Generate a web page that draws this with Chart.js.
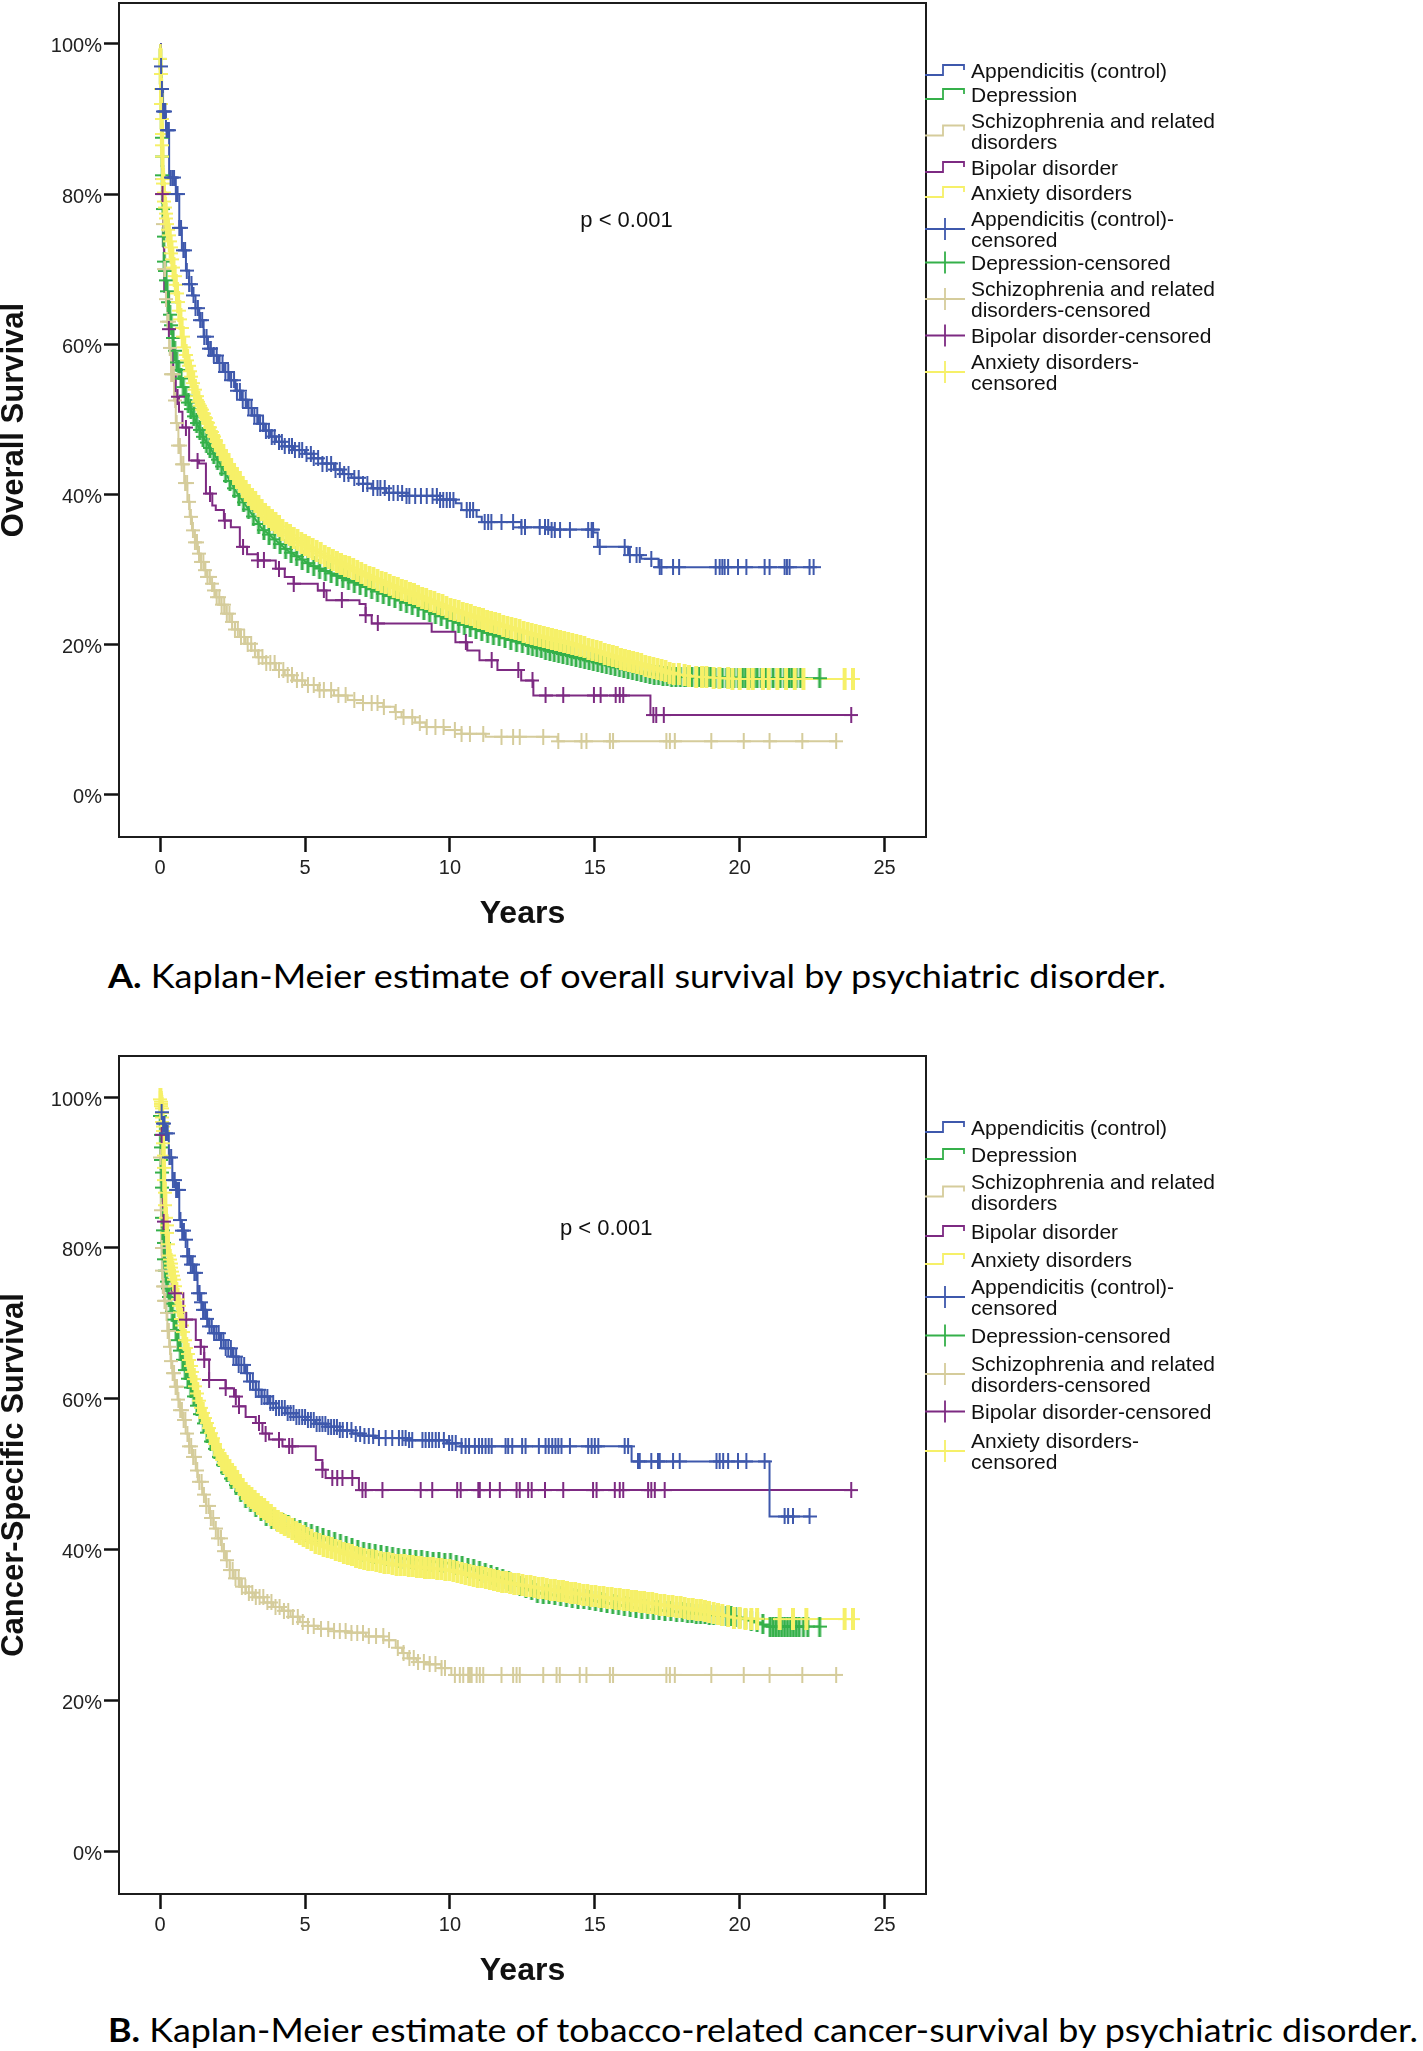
<!DOCTYPE html>
<html><head><meta charset="utf-8">
<script src="https://cdn.jsdelivr.net/npm/chart.js@4.4.1/dist/chart.umd.min.js"></script>
<style>
html,body{margin:0;padding:0;background:#fff;}
#page{position:relative;width:1423px;height:2051px;background:#fff;overflow:hidden;}
canvas{position:absolute;left:0;}
.leg{position:absolute;left:925px;font-family:'Liberation Sans',Arial,sans-serif;font-size:21px;line-height:21px;color:#111;white-space:nowrap;}
.leg svg{position:absolute;left:0;top:0;overflow:visible}
.leg .t{position:absolute;left:46px;top:0;}
.cap{position:absolute;left:108px;font-family:Lato,'Open Sans',sans-serif;font-size:32px;line-height:36px;color:#000;white-space:nowrap;transform-origin:0 50%;}
.cap b{font-weight:700;}
</style></head><body><div id="page">
<canvas id="cA" width="940" height="940" style="top:0;width:940px;height:940px"></canvas>
<canvas id="cB" width="940" height="960" style="top:1040px;width:940px;height:960px"></canvas>
<div class="cap" id="capA" style="top:958px"><b>A.</b> Kaplan-Meier estimate of overall survival by psychiatric disorder.</div>
<div class="cap" id="capB" style="top:2012px"><b>B.</b> Kaplan-Meier estimate of tobacco-related cancer-survival by psychiatric disorder.</div>
</div>
<script>
// ---------------- DATA ----------------
const GROUPS = ["Appendicitis (control)", "Depression", "Schizophrenia and related disorders", "Bipolar disorder", "Anxiety disorders"];
const LEGEND_LABELS = [["Appendicitis (control)"], ["Depression"], ["Schizophrenia and related", "disorders"], ["Bipolar disorder"], ["Anxiety disorders"],
  ["Appendicitis (control)-", "censored"], ["Depression-censored"], ["Schizophrenia and related", "disorders-censored"], ["Bipolar disorder-censored"], ["Anxiety disorders-", "censored"]];
const X_TICKS = [0, 5, 10, 15, 20, 25];
const Y_TICKS = [0, 20, 40, 60, 80, 100];
const P_TEXT = "p < 0.001";

// Chart A: overall survival. Curves are [years, survival %] step knots; *_cens = times of censor marks
const A_appendicitis = [[0,100],[0.02,97],[0.05,94],[0.1,91],[0.2,88.5],[0.31,82.2],[0.54,80],[0.66,75.5],[0.75,72.5],[0.89,69.8],[1.0,68],[1.1,66.5],[1.22,64.8],[1.35,63.2],[1.5,61],[1.65,59.4],[1.8,58.5],[2.0,57.5],[2.2,56.3],[2.4,55.2],[2.6,53.8],[2.8,52.6],[3.0,51.5],[3.17,50.5],[3.4,49.4],[3.58,48.5],[3.8,47.7],[4.0,47],[4.3,46.4],[4.6,45.9],[5.0,45.4],[5.3,44.8],[5.6,44.1],[6.0,43.3],[6.3,42.7],[6.6,42.2],[7.0,41.4],[7.3,40.8],[7.8,40.2],[8.5,39.8],[9.66,39.3],[10.2,38.8],[10.4,37.9],[10.92,37.0],[11.1,36.3],[12.46,35.6],[13.4,35.3],[14.95,34.9],[15.1,33.0],[16.15,31.9],[16.6,31.4],[17.2,30.3],[22.55,30.3]];
const A_appendicitis_cens = [0.03,0.06,0.1,0.14,0.18,0.22,0.26,0.3,0.36,0.42,0.48,0.55,0.6,0.66,0.72,0.8,0.86,0.92,1.0,1.08,1.15,1.22,1.3,1.38,1.45,1.52,1.6,1.68,1.75,1.85,1.95,2.05,2.15,2.25,2.35,2.45,2.55,2.65,2.75,2.85,2.95,3.05,3.15,3.25,3.35,3.45,3.55,3.65,3.75,3.85,3.95,4.1,4.2,4.3,4.45,4.55,4.65,4.8,4.9,5.05,5.2,5.3,5.45,5.6,5.75,5.9,6.05,6.2,6.35,6.5,6.7,6.85,7.0,7.15,7.35,7.5,7.6,7.75,7.9,8.05,8.2,8.35,8.5,8.6,8.8,9.0,9.2,9.4,9.55,9.66,9.77,9.89,10.0,10.12,10.58,10.69,10.8,11.2,11.32,11.43,11.78,12.18,12.47,12.59,13.1,13.28,13.39,13.51,13.62,13.8,14.14,14.77,14.89,14.94,15.17,16.03,16.21,16.44,16.55,16.95,17.24,17.3,17.7,17.91,19.17,19.31,19.4,19.48,19.6,19.94,20.23,20.86,21.03,21.55,21.63,21.72,22.41,22.55];
const A_depression = [[0,100],[0.01,98],[0.03,94],[0.05,90],[0.07,85],[0.09,80],[0.11,76],[0.14,71],[0.2,68.5],[0.31,64.5],[0.54,58],[0.89,53],[1.2,50],[1.5,47.5],[2.0,44.5],[2.65,40.2],[3.5,35.5],[4.4,32.5],[5.2,30.6],[6.0,29.3],[7.0,27.8],[8.0,26.3],[9.0,24.8],[10,23.3],[11,21.9],[12,20.7],[13.5,19.1],[15,17.7],[16.8,16.1],[17.7,15.7],[19,15.6],[21,15.5],[22.76,15.5]];
const A_depression_cens = [0.01,0.02,0.03,0.04,0.05,0.06,0.07,0.08,0.09,0.1,0.12,0.14,0.17,0.2,0.24,0.28,0.33,0.38,0.44,0.5,0.57,0.64,0.72,0.8,0.88,0.97,1.06,1.16,1.26,1.37,1.48,1.6,1.72,1.85,1.98,2.12,2.26,2.41,2.56,2.72,2.88,3.05,3.22,3.4,3.58,3.76,3.95,4.14,4.33,4.52,4.71,4.9,5.1,5.3,5.5,5.7,5.9,6.1,6.3,6.5,6.7,6.9,7.1,7.3,7.5,7.7,7.9,8.1,8.3,8.5,8.7,8.9,9.1,9.3,9.5,9.7,9.9,10.1,10.3,10.5,10.7,10.9,11.1,11.3,11.5,11.7,11.9,12.1,12.3,12.5,12.7,12.85,13.0,13.15,13.3,13.45,13.6,13.75,13.9,14.05,14.2,14.35,14.5,14.65,14.8,14.95,15.1,15.25,15.4,15.55,15.7,15.85,16.0,16.15,16.3,16.45,16.6,16.75,16.9,17.05,17.2,17.35,17.5,17.65,17.8,17.95,18.1,18.2,18.35,18.5,18.6,18.75,18.9,19.0,19.15,19.3,19.4,19.55,19.7,19.8,19.95,20.1,20.2,20.35,20.5,20.6,20.75,20.9,21.0,21.15,21.3,21.4,21.55,21.7,21.8,21.95,22.1,22.76];
const A_schizophrenia = [[0,100],[0.02,94],[0.05,88],[0.08,82],[0.11,76],[0.14,70],[0.2,66],[0.25,63],[0.31,59.5],[0.38,56],[0.48,52.5],[0.54,49.5],[0.63,46.5],[0.71,44],[0.83,41.5],[0.94,39],[1.02,37],[1.1,35.2],[1.2,33.6],[1.3,32.1],[1.4,31],[1.51,29.9],[1.62,29],[1.72,28.1],[1.82,27.2],[1.92,26.3],[2.05,25.3],[2.23,24.1],[2.4,23],[2.58,22],[2.75,21.0],[2.95,20.1],[3.15,19.2],[3.37,18.3],[3.65,17.5],[3.99,16.6],[4.3,15.9],[4.61,15.2],[5.0,14.6],[5.44,13.9],[6.0,13.2],[6.47,12.6],[7.0,12.2],[7.7,11.7],[8.1,11.0],[8.33,10.3],[8.8,9.6],[9.16,9.0],[9.8,8.6],[10.4,8.1],[11.23,7.7],[13.71,7.1],[23.33,7.1]];
const A_schizophrenia_cens = [0.02,0.05,0.08,0.11,0.14,0.17,0.2,0.25,0.29,0.33,0.38,0.42,0.47,0.52,0.57,0.63,0.68,0.74,0.8,0.86,0.93,1.0,1.06,1.13,1.2,1.27,1.34,1.41,1.49,1.56,1.63,1.71,1.79,1.87,1.95,2.04,2.12,2.21,2.3,2.39,2.48,2.58,2.68,2.79,2.9,3.02,3.14,3.27,3.4,3.53,3.66,3.8,3.95,4.1,4.25,4.4,4.55,4.72,4.9,5.1,5.3,5.5,5.65,5.9,6.15,6.4,6.7,7.0,7.3,7.5,7.72,8.13,8.4,8.7,8.96,9.2,9.5,9.78,10.17,10.4,10.69,11.15,11.78,12.18,12.41,13.22,13.74,14.54,14.71,15.52,15.63,17.47,17.59,17.76,19.02,20.14,21.03,22.16,23.33];
const A_bipolar = [[0,100],[0.02,95],[0.05,88],[0.08,80],[0.11,73],[0.14,67],[0.3,62],[0.45,56],[0.54,53],[0.65,51],[0.77,48.9],[1.0,44.5],[1.34,44.1],[1.58,40.1],[1.8,38.5],[1.92,37.9],[2.2,36.5],[2.44,35.6],[2.75,33.0],[3.0,32],[3.37,31.2],[3.99,30.1],[4.3,29],[4.61,28.1],[5.44,27.2],[5.74,25.9],[6.88,25.4],[7.09,23.9],[7.3,22.8],[9.0,22.8],[9.37,21.7],[10.19,20.3],[10.6,19.2],[11.02,17.9],[11.64,16.6],[12.46,15.2],[12.88,13.2],[16.92,10.6],[23.85,10.6]];
const A_bipolar_cens = [0.08,0.3,0.6,0.89,1.29,1.72,2.23,2.86,3.37,3.58,4.1,4.61,5.65,6.27,7.09,7.51,10.55,11.44,12.36,12.85,13.3,13.91,14.97,15.2,15.72,15.86,15.98,17.02,17.12,17.38,23.85];
const A_anxiety = [[0,100],[0.02,96],[0.04,92],[0.06,88],[0.08,85],[0.1,82],[0.15,79],[0.2,77],[0.3,74.5],[0.45,70.5],[0.85,59],[1.3,52.5],[1.93,47],[2.5,43],[3.0,40.2],[3.6,37.5],[4.3,35],[5.0,33.2],[6.0,31.2],[7.0,29.4],[8.0,27.8],[9.0,26.3],[10,24.8],[11,23.5],[12,22.3],[13,21.2],[14,20.3],[15,19.2],[16,18.0],[17,16.9],[17.7,16.1],[18.5,15.7],[20,15.4],[23.91,15.4]];
const A_anxiety_cens = [0.01,0.02,0.03,0.04,0.05,0.06,0.07,0.08,0.1,0.11,0.13,0.15,0.17,0.19,0.21,0.24,0.27,0.3,0.33,0.36,0.39,0.42,0.46,0.5,0.54,0.58,0.62,0.66,0.7,0.74,0.78,0.83,0.88,0.93,0.98,1.03,1.08,1.14,1.2,1.26,1.32,1.38,1.44,1.5,1.57,1.64,1.71,1.78,1.85,1.92,2.0,2.09,2.18,2.27,2.36,2.45,2.55,2.65,2.75,2.85,2.95,3.06,3.17,3.28,3.39,3.5,3.62,3.74,3.86,3.98,4.1,4.22,4.35,4.48,4.61,4.74,4.87,5.0,5.13,5.26,5.4,5.54,5.68,5.82,5.96,6.1,6.24,6.38,6.52,6.66,6.8,6.94,7.08,7.22,7.36,7.5,7.64,7.78,7.92,8.06,8.2,8.34,8.48,8.62,8.76,8.9,9.04,9.18,9.32,9.46,9.6,9.74,9.88,10.02,10.16,10.3,10.44,10.58,10.72,10.86,11.0,11.14,11.28,11.42,11.56,11.7,11.84,11.98,12.12,12.26,12.4,12.54,12.68,12.82,12.96,13.1,13.24,13.38,13.52,13.66,13.8,13.94,14.08,14.22,14.36,14.5,14.64,14.78,14.92,15.06,15.2,15.34,15.48,15.62,15.76,15.9,16.04,16.18,16.32,16.46,16.6,16.74,16.88,17.02,17.16,17.3,17.44,17.58,17.72,17.9,18.1,18.25,18.5,18.7,18.85,19.1,19.3,19.6,19.75,20.0,20.3,20.45,20.8,21.0,21.3,21.6,21.9,22.2,23.62,23.91];

// Chart B: tobacco-related cancer-specific survival
const B_appendicitis = [[0,100],[0.03,98],[0.1,96.5],[0.2,95.2],[0.3,92],[0.42,89],[0.54,87.7],[0.66,83.7],[0.75,82.3],[0.83,81.1],[0.94,78.9],[1.05,77.8],[1.17,76.7],[1.29,74],[1.38,72.8],[1.46,71.8],[1.58,70.6],[1.69,69.6],[1.85,68.7],[2.03,67.8],[2.25,66.7],[2.49,65.6],[2.7,64.5],[2.95,63.4],[3.1,62.3],[3.3,61.2],[3.5,60.3],[3.76,59.4],[4.0,58.8],[4.33,58.1],[4.7,57.6],[5.02,57.2],[5.35,56.7],[5.71,56.3],[6.2,55.8],[6.63,55.4],[7.0,55.1],[7.44,54.8],[8.5,54.5],[9.9,54.1],[10.4,53.7],[16.27,51.7],[21.03,44.4],[22.41,44.4]];
const B_appendicitis_cens = [0.05,0.1,0.15,0.2,0.26,0.32,0.38,0.44,0.5,0.55,0.6,0.65,0.7,0.76,0.82,0.88,0.94,1.0,1.06,1.12,1.18,1.24,1.3,1.36,1.42,1.48,1.55,1.62,1.7,1.78,1.86,1.94,2.02,2.1,2.18,2.26,2.35,2.44,2.53,2.62,2.71,2.8,2.9,3.0,3.1,3.2,3.3,3.4,3.5,3.6,3.7,3.8,3.9,4.0,4.1,4.2,4.3,4.4,4.5,4.6,4.7,4.8,4.9,5.0,5.1,5.2,5.3,5.4,5.5,5.6,5.7,5.8,5.9,6.0,6.1,6.2,6.3,6.45,6.6,6.75,6.9,7.05,7.2,7.35,7.55,7.78,8.01,8.24,8.36,8.47,8.59,8.7,9.05,9.16,9.28,9.39,9.51,9.62,9.79,9.97,10.08,10.2,10.4,10.54,10.66,10.86,11.0,11.11,11.23,11.34,11.44,11.92,12.01,12.15,12.49,12.61,13.07,13.3,13.41,13.53,13.64,13.74,13.85,14.14,14.77,14.89,15.0,15.12,16.03,16.15,16.49,16.55,16.95,17.18,17.24,17.7,17.93,19.2,19.31,19.43,19.6,19.94,20.23,20.86,21.55,21.67,21.84,22.41];
const B_depression = [[0,100],[0.02,95],[0.05,90],[0.08,84],[0.14,79],[0.2,76],[0.31,73.5],[0.48,70.5],[0.66,67],[0.89,63.5],[1.23,59.5],[1.69,54.8],[2.26,50.5],[2.95,46.8],[3.76,44.2],[4.91,42.5],[6.06,40.9],[6.9,39.8],[8.0,39.0],[8.93,38.6],[10,38.2],[11,37.2],[12,35.9],[13,34.3],[15,33.2],[16.55,32.2],[18.6,31.5],[19.9,31.1],[20.5,30.5],[21.0,29.8],[22.76,29.8]];
const B_depression_cens = [0.01,0.02,0.03,0.04,0.05,0.06,0.08,0.1,0.12,0.15,0.18,0.22,0.26,0.31,0.36,0.42,0.48,0.55,0.62,0.7,0.78,0.87,0.96,1.06,1.16,1.27,1.38,1.5,1.62,1.75,1.88,2.02,2.16,2.31,2.46,2.62,2.78,2.95,3.12,3.3,3.48,3.66,3.85,4.04,4.23,4.42,4.62,4.82,5.02,5.22,5.42,5.62,5.82,6.02,6.22,6.42,6.62,6.82,7.02,7.22,7.42,7.62,7.82,8.02,8.22,8.42,8.62,8.82,9.02,9.22,9.42,9.62,9.82,10.02,10.22,10.42,10.62,10.82,11.02,11.22,11.42,11.62,11.82,12.02,12.22,12.42,12.62,12.82,13.02,13.22,13.42,13.62,13.82,14.02,14.22,14.42,14.62,14.82,15.02,15.22,15.42,15.62,15.82,16.02,16.22,16.42,16.62,16.82,17.02,17.22,17.42,17.62,17.82,18.02,18.2,18.35,18.5,18.65,18.8,18.95,19.1,19.25,19.4,19.55,19.7,19.85,20.0,20.2,20.4,20.6,20.8,21.05,21.15,21.25,21.35,21.45,21.55,21.65,21.75,21.85,21.95,22.05,22.2,22.35,22.76];
const B_schizophrenia = [[0,100],[0.01,92],[0.02,85],[0.04,80],[0.06,77],[0.08,74.9],[0.14,73],[0.2,71.4],[0.25,69],[0.31,66.9],[0.36,65],[0.42,63.4],[0.5,61.6],[0.6,59.9],[0.68,58.5],[0.77,57.2],[0.88,55.4],[1.0,53.7],[1.1,52.3],[1.23,50.5],[1.3,49],[1.45,47.3],[1.58,45.8],[1.72,44.2],[1.85,42.8],[2.0,41.5],[2.13,39.8],[2.26,38.6],[2.4,37.3],[2.54,36.2],[2.75,35.1],[2.96,34.3],[3.25,33.7],[3.58,33.0],[3.9,32.4],[4.2,31.9],[4.5,31.1],[4.82,30.4],[5.1,29.9],[5.44,29.5],[6.0,29.2],[6.47,29.0],[7.1,28.5],[7.71,28.0],[8.13,27.0],[8.35,26.3],[8.54,25.6],[8.85,25.1],[9.16,24.8],[9.7,24.3],[10.05,23.4],[23.33,23.4]];
const B_schizophrenia_cens = [0.01,0.03,0.05,0.07,0.09,0.12,0.15,0.18,0.22,0.26,0.3,0.34,0.38,0.43,0.48,0.53,0.58,0.63,0.69,0.75,0.81,0.87,0.94,1.0,1.07,1.14,1.21,1.28,1.35,1.43,1.51,1.59,1.67,1.75,1.83,1.92,2.01,2.1,2.2,2.3,2.4,2.5,2.6,2.71,2.82,2.94,3.06,3.18,3.3,3.43,3.56,3.7,3.84,3.98,4.12,4.27,4.42,4.58,4.75,4.92,5.1,5.3,5.55,5.8,6.0,6.2,6.4,6.6,6.8,7.0,7.2,7.45,7.7,7.9,8.2,8.4,8.6,8.75,8.9,9.1,9.3,9.5,9.71,9.83,10.17,10.34,10.46,10.63,10.69,10.75,10.92,11.03,11.15,11.78,12.18,12.3,12.41,13.22,13.68,13.79,14.48,14.71,15.52,15.63,17.47,17.59,17.76,19.02,20.14,21.03,22.16,23.33];
const B_bipolar = [[0,100],[0.03,95],[0.06,89],[0.1,83.5],[0.15,78.5],[0.4,74],[0.8,70.5],[1.23,67.8],[1.4,66.9],[1.52,65.2],[1.69,62.5],[2.26,61.4],[2.55,60.3],[2.72,59],[2.95,57.6],[3.3,56.8],[3.53,55.4],[3.76,54.6],[4.22,53.7],[5.37,51.9],[5.6,50.6],[5.71,49.5],[6.86,47.9],[23.85,47.9]];
const B_bipolar_cens = [0.05,0.12,0.5,0.9,1.4,1.52,1.69,2.26,2.61,2.72,3.41,3.64,4.1,4.45,4.56,5.6,5.94,6.11,6.29,6.63,6.98,7.09,7.67,8.99,9.39,10.25,10.37,10.98,11.03,11.38,11.72,12.3,12.41,12.7,12.82,13.28,13.91,14.94,15.06,15.69,15.86,15.98,16.84,16.95,17.07,17.41,23.85];
const B_anxiety = [[0,100],[0.05,98.5],[0.1,95.5],[0.14,89],[0.2,84],[0.3,79],[0.48,75.8],[0.89,66.9],[1.4,58.8],[2.09,52.2],[2.95,47.5],[4.05,43.8],[5.42,40.8],[6.9,38.9],[8.0,38.1],[8.94,37.7],[10,37.3],[11,36.4],[12,35.6],[13,35.0],[14.5,34.1],[16.55,33.1],[18.6,32.0],[19.9,30.9],[21,30.8],[23.91,30.8]];
const B_anxiety_cens = [0.01,0.02,0.03,0.04,0.05,0.06,0.07,0.08,0.09,0.1,0.11,0.12,0.13,0.14,0.16,0.18,0.2,0.22,0.24,0.27,0.3,0.33,0.36,0.39,0.42,0.45,0.48,0.52,0.56,0.6,0.64,0.68,0.72,0.76,0.8,0.85,0.9,0.95,1.0,1.05,1.1,1.16,1.22,1.28,1.34,1.4,1.47,1.54,1.61,1.68,1.75,1.82,1.9,1.98,2.06,2.14,2.22,2.3,2.39,2.48,2.57,2.66,2.75,2.85,2.95,3.05,3.15,3.26,3.37,3.48,3.59,3.7,3.82,3.94,4.06,4.18,4.3,4.43,4.56,4.69,4.82,4.95,5.08,5.22,5.36,5.5,5.64,5.78,5.92,6.06,6.2,6.34,6.48,6.62,6.76,6.9,7.04,7.18,7.32,7.46,7.6,7.74,7.88,8.02,8.16,8.3,8.44,8.58,8.72,8.86,9.0,9.14,9.28,9.42,9.56,9.7,9.84,9.98,10.12,10.26,10.4,10.54,10.68,10.82,10.96,11.1,11.24,11.38,11.52,11.66,11.8,11.94,12.08,12.22,12.36,12.5,12.64,12.78,12.92,13.06,13.2,13.34,13.48,13.62,13.76,13.9,14.04,14.18,14.32,14.46,14.6,14.74,14.88,15.02,15.16,15.3,15.44,15.58,15.72,15.86,16.0,16.14,16.28,16.42,16.56,16.7,16.84,16.98,17.12,17.26,17.4,17.54,17.68,17.82,17.96,18.1,18.24,18.38,18.52,18.66,18.8,18.94,19.1,19.25,19.4,19.6,19.8,20.0,20.2,20.4,20.6,21.38,21.84,22.3,23.62,23.91];

// ---------------- STYLE ----------------
const COLORS = ["#3e58ac", "#35b04a", "#d5cc9b", "#7d2a82", "#f6f068"];
const STEPPED = [true, false, true, true, false];
const MARK_HX = [6, 6, 6, 6, 6];
const MARK_HY = [7, 9, 7, 7, 10];
const MARK_VW = [2, 3, 2, 2, 4];
const LINE_ORDER = [6, 9, 8, 7, 5];
const MARK_ORDER = [0, 4, 3, 1, 2];
const FONT = "'Liberation Sans', Arial, Helvetica, sans-serif";

function valueAt(curve, t, stepped) {
  let v = curve[0][1];
  for (let i = 0; i < curve.length; i++) {
    if (curve[i][0] <= t) { v = curve[i][1]; continue; }
    if (!stepped && i > 0) {
      const [t0, s0] = curve[i - 1], [t1, s1] = curve[i];
      return s0 + (s1 - s0) * (t - t0) / (t1 - t0);
    }
    break;
  }
  return v;
}

function crossImage(color, hx, hy, vw) {
  const c = document.createElement('canvas');
  c.width = 2 * hx + 2; c.height = 2 * hy + 2;
  const ctx = c.getContext('2d');
  ctx.strokeStyle = color;
  ctx.lineWidth = 2;
  ctx.beginPath(); ctx.moveTo(0, hy + 1); ctx.lineTo(2 * hx + 2, hy + 1); ctx.stroke();
  ctx.lineWidth = vw;
  ctx.beginPath(); ctx.moveTo(hx + 1, 0); ctx.lineTo(hx + 1, 2 * hy + 2); ctx.stroke();
  return c;
}
const MARKS = COLORS.map((c, g) => crossImage(c, MARK_HX[g], MARK_HY[g], MARK_VW[g]));

const framePlugin = {
  id: 'frame',
  afterDraw(chart, args, opts) {
    const { ctx, chartArea: a, scales: { x, y } } = chart;
    ctx.save();
    ctx.strokeStyle = '#1c1c1c';
    ctx.lineWidth = 2;
    ctx.strokeRect(a.left, a.top, a.right - a.left, a.bottom - a.top);
    ctx.fillStyle = '#111';
    ctx.font = "22px " + FONT;
    ctx.textBaseline = 'middle';
    ctx.textAlign = 'left';
    ctx.fillText(opts.text, x.getPixelForValue(opts.at[0]), y.getPixelForValue(opts.at[1]));
    ctx.restore();
  }
};

function buildChart(id, curves, cens, yTitle, pad, xAxisH, titleBottomPad, pAt) {
  const datasets = [];
  for (let g = 0; g < 5; g++) {
    datasets.push({
      label: GROUPS[g],
      data: curves[g].map(([x, y]) => ({ x, y })),
      borderColor: COLORS[g], borderWidth: 2, pointRadius: 0, pointHoverRadius: 0,
      stepped: STEPPED[g] ? 'before' : false, tension: 0, fill: false, order: LINE_ORDER[g]
    });
    datasets.push({
      label: GROUPS[g] + '-censored',
      data: cens[g].map(t => ({ x: t, y: valueAt(curves[g], t, STEPPED[g]) })),
      showLine: false, pointStyle: MARKS[g], pointRadius: 6, pointHoverRadius: 6,
      borderColor: COLORS[g], backgroundColor: COLORS[g], order: MARK_ORDER[g]
    });
  }
  const tickFont = { family: FONT, size: 20 };
  const noPad = s => { s.paddingTop = 0; s.paddingBottom = 0; s.paddingLeft = 0; s.paddingRight = 0; };
  return new Chart(document.getElementById(id), {
    type: 'line',
    data: { datasets },
    plugins: [framePlugin],
    options: {
      responsive: false, animation: false, devicePixelRatio: 1,
      layout: { autoPadding: false, padding: { top: pad, left: 0, right: 14, bottom: 0 } },
      plugins: { legend: { display: false }, tooltip: { enabled: false }, frame: { text: P_TEXT, at: pAt } },
      scales: {
        x: {
          type: 'linear', min: -1.42, max: 26.43,
          afterBuildTicks: s => { s.ticks = X_TICKS.map(v => ({ value: v })); },
          afterFit: s => { s.height = xAxisH; noPad(s); },
          ticks: { font: tickFont, color: '#222', padding: 4, maxRotation: 0, autoSkip: false },
          grid: { display: true, drawOnChartArea: false, drawTicks: true, tickLength: 15, tickWidth: 2.5, tickColor: '#111', color: '#111' },
          border: { display: false },
          title: { display: true, text: 'Years', color: '#111', font: { family: FONT, size: 32, weight: 'bold', lineHeight: 1 }, padding: { top: 0, bottom: titleBottomPad } }
        },
        y: {
          type: 'linear', min: -5.65, max: 105.45,
          afterBuildTicks: s => { s.ticks = Y_TICKS.map(v => ({ value: v })); },
          afterFit: s => { s.width = 119; noPad(s); },
          ticks: { font: tickFont, color: '#222', padding: 2, labelOffset: 3, callback: v => v + '%' },
          grid: { display: true, drawOnChartArea: false, drawTicks: true, tickLength: 15, tickWidth: 2.5, tickColor: '#111', color: '#111' },
          border: { display: false },
          title: { display: true, text: yTitle, color: '#111', font: { family: FONT, size: 31, weight: 'bold', lineHeight: 0.8 }, padding: { top: 1.6, bottom: 0 } }
        }
      }
    }
  });
}

buildChart('cA',
  [A_appendicitis, A_depression, A_schizophrenia, A_bipolar, A_anxiety],
  [A_appendicitis_cens, A_depression_cens, A_schizophrenia_cens, A_bipolar_cens, A_anxiety_cens],
  'Overall Survival', 3, 103, 10, [14.5, 76.4]);
buildChart('cB',
  [B_appendicitis, B_depression, B_schizophrenia, B_bipolar, B_anxiety],
  [B_appendicitis_cens, B_depression_cens, B_schizophrenia_cens, B_bipolar_cens, B_anxiety_cens],
  'Cancer-Specific Survival', 16, 106, 12.4, [13.8, 82.5]);

// ---------------- LEGENDS (HTML) ----------------
const page = document.getElementById('page');
function buildLegend(firstLineCenters) {
  LEGEND_LABELS.forEach((lines, i) => {
    const g = i % 5, cens = i >= 5;
    const h = lines.length * 21, c = h / 2;
    const div = document.createElement('div');
    div.className = 'leg';
    div.style.top = (firstLineCenters[i] - 10.5) + 'px';
    div.style.height = h + 'px';
    div.style.width = '480px';
    const path = cens ? `M0 ${c} H40 M20 ${c - 11} V${c + 11}` : `M0 ${c + 4.5} H18 V${c - 5.5} H39 V${c - 0.5}`;
    div.innerHTML = `<svg width="42" height="${h}"><path d="${path}" fill="none" stroke="${COLORS[g]}" stroke-width="1.8"/></svg><div class="t">${lines.join('<br>')}</div>`;
    page.appendChild(div);
  });
}
buildLegend([70, 94.3, 120, 167.7, 192.3, 218.3, 262.7, 288.3, 335.7, 361]);
buildLegend([1127.3, 1154.3, 1181.7, 1231.7, 1259, 1286.7, 1335, 1363.3, 1411.7, 1440]);

// fit captions to the reference text widths (horizontal condense, like the original's narrow face)
function fitCaption(id, targetW) {
  const el = document.getElementById(id);
  const w = el.getBoundingClientRect().width;
  el.style.transform = `scaleX(${(targetW / w).toFixed(4)})`;
}
fitCaption('capA', 1058);
fitCaption('capB', 1310);
</script>
</body></html>
